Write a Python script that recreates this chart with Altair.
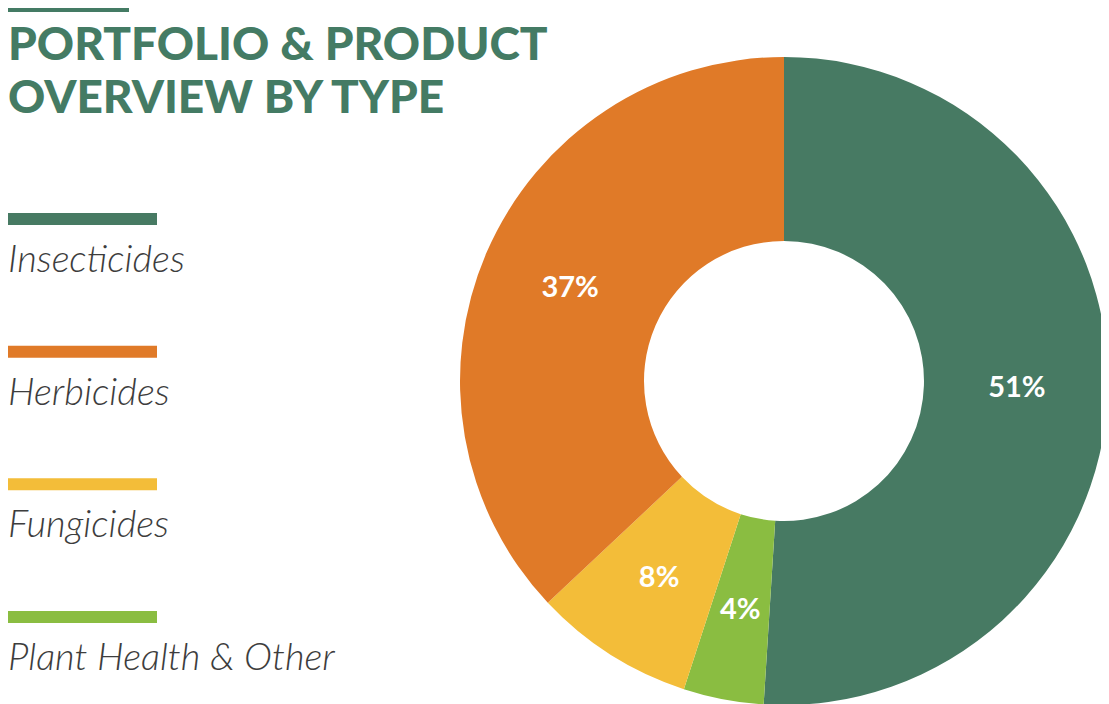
import altair as alt
import pandas as pd

# ---- data ----
types = ["Insecticides", "Plant Health & Other", "Fungicides", "Herbicides"]
shares = [51, 4, 8, 37]
slice_order = [0, 1, 2, 3]
legend_order = ["Insecticides", "Herbicides", "Fungicides", "Plant Health & Other"]
colors = ["#477a63", "#8abd41", "#f3bd39", "#e07a28"]
title_lines = ["PORTFOLIO & PRODUCT", "OVERVIEW BY TYPE"]

df = pd.DataFrame({
    "Type": types,
    "Share": shares,
    "idx": slice_order,
    "Label": [f"{s}%" for s in shares],
})

color_scale = alt.Scale(domain=types, range=colors)

CX, CY = 776, 373  # donut centre in plot coordinates

base = alt.Chart(df)

arcs = base.mark_arc(outerRadius=324, innerRadius=140, stroke=None).encode(
    theta=alt.Theta("Share:Q", stack=True),
    color=alt.Color("Type:N", scale=color_scale, legend=None),
    order=alt.Order("idx:Q"),
    x=alt.value(CX),
    y=alt.value(CY),
)

pct = base.mark_text(
    radius=233, font="Lato", fontWeight="bold", fontSize=29, color="white",
    align="center", baseline="middle",
).encode(
    theta=alt.Theta("Share:Q", stack=True),
    order=alt.Order("idx:Q"),
    text="Label:N",
    x=alt.value(CX),
    y=alt.value(CY),
)

legend_y = alt.Y("Type:N", sort=legend_order, axis=None,
                 scale=alt.Scale(type="point", domain=legend_order,
                                 range=[211, 609], padding=0))

legend_bars = base.mark_rule(strokeWidth=12, strokeCap="butt").encode(
    x=alt.value(0), x2=alt.value(149),
    y=legend_y,
    color=alt.Color("Type:N", scale=color_scale, legend=None),
)

legend_text = base.mark_text(
    font="Lato", fontStyle="italic", fontWeight=300, fontSize=38, color="#3d3d3d",
    align="left", baseline="alphabetic", dy=53,
).encode(
    x=alt.value(0),
    y=legend_y,
    text="Type:N",
)

title_rule = alt.Chart(pd.DataFrame({"a": [0]})).mark_rule(
    color="#447b64", strokeWidth=4, strokeCap="butt"
).encode(x=alt.value(0), x2=alt.value(121), y=alt.value(2))

title = alt.Chart(pd.DataFrame({"a": [0]})).mark_text(
    font="Lato", fontWeight=900, fontSize=46, color="#447b64",
    align="left", baseline="alphabetic", lineHeight=53,
).encode(x=alt.value(0), y=alt.value(52), text=alt.value(title_lines))

chart = alt.layer(
    arcs, pct, legend_bars, legend_text, title_rule, title
).resolve_scale(y="independent").properties(
    width=1093, height=696, padding=0,
    autosize=alt.AutoSizeParams(type="none"),
).configure_view(stroke=None)

chart.save("out.html", embed_options={"renderer": "svg", "actions": False})
